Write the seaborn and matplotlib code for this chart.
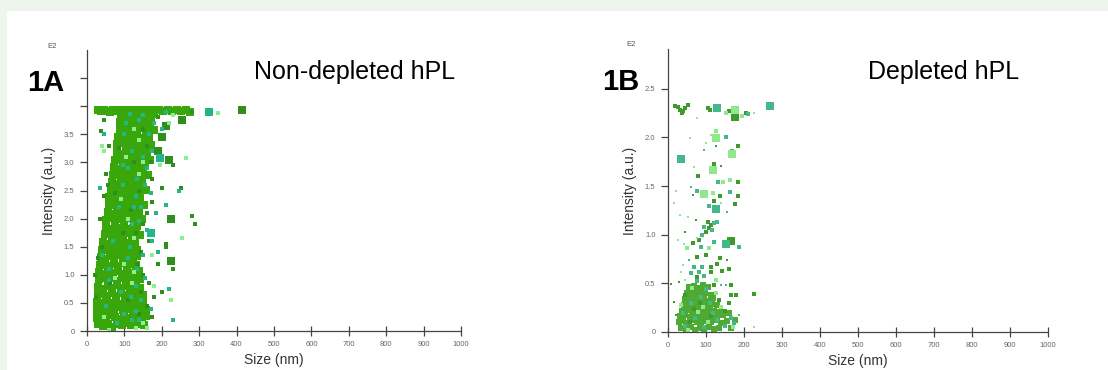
import matplotlib
matplotlib.use("Agg")
import matplotlib.pyplot as plt
from matplotlib.patches import Rectangle
import pandas as pd
import seaborn as sns

# --- data (size in nm, intensity in E2 a.u.)

# panel 1A, non-depleted hPL
a_core = [
    (30, 0.12), (42, 0.09), (55, 0.13), (68, 0.08), (80, 0.12), (93, 0.10), (105, 0.14), (118, 0.11), (128, 0.15),
    (27, 0.24), (38, 0.27), (50, 0.22), (63, 0.28), (75, 0.25), (88, 0.21), (100, 0.27), (112, 0.24), (124, 0.26), (135, 0.23),
    (26, 0.38), (36, 0.41), (48, 0.35), (60, 0.40), (72, 0.36), (85, 0.42), (97, 0.37), (110, 0.40), (122, 0.36), (133, 0.41),
    (28, 0.52), (40, 0.49), (52, 0.55), (64, 0.50), (77, 0.54), (89, 0.48), (101, 0.53), (113, 0.50), (125, 0.55),
    (29, 0.65), (41, 0.68), (53, 0.63), (66, 0.67), (78, 0.62), (90, 0.68), (103, 0.64), (115, 0.67), (127, 0.63),
    (30, 0.78), (42, 0.75), (55, 0.80), (67, 0.76), (80, 0.81), (92, 0.77), (104, 0.80), (117, 0.76),
    (32, 0.92), (44, 0.95), (56, 0.90), (68, 0.94), (81, 0.89), (93, 0.95), (106, 0.91), (118, 0.94),
    (33, 1.05), (45, 1.02), (57, 1.08), (70, 1.03), (82, 1.07), (95, 1.02), (107, 1.06), (116, 1.03),
    (35, 1.18), (47, 1.21), (59, 1.16), (71, 1.20), (84, 1.15), (96, 1.21), (108, 1.17),
    (37, 1.32), (49, 1.29), (61, 1.34), (73, 1.30), (86, 1.35), (98, 1.29), (110, 1.33),
    (40, 1.45), (52, 1.48), (64, 1.43), (76, 1.47), (88, 1.42), (100, 1.48), (111, 1.44),
    (44, 1.58), (56, 1.55), (68, 1.60), (80, 1.56), (92, 1.61), (104, 1.55),
    (47, 1.72), (59, 1.75), (71, 1.70), (83, 1.74), (95, 1.69), (107, 1.75),
    (50, 1.85), (62, 1.82), (74, 1.88), (86, 1.83), (98, 1.87), (110, 1.82),
    (52, 1.98), (64, 2.01), (76, 1.96), (88, 2.00), (100, 1.95), (112, 2.01),
    (55, 2.12), (67, 2.09), (79, 2.14), (91, 2.10), (103, 2.15), (115, 2.09),
    (58, 2.25), (70, 2.28), (82, 2.23), (94, 2.27), (106, 2.22), (117, 2.28),
    (60, 2.38), (72, 2.35), (84, 2.40), (96, 2.36), (108, 2.41), (119, 2.35),
    (63, 2.52), (75, 2.55), (87, 2.50), (99, 2.54), (111, 2.49), (121, 2.55),
    (66, 2.65), (78, 2.62), (90, 2.67), (102, 2.63), (114, 2.68), (124, 2.62),
    (69, 2.78), (81, 2.81), (93, 2.76), (105, 2.80), (117, 2.75), (127, 2.81),
    (72, 2.92), (84, 2.89), (96, 2.94), (108, 2.90), (120, 2.95), (130, 2.89),
    (76, 3.05), (88, 3.08), (100, 3.03), (112, 3.07), (124, 3.02), (133, 3.08),
    (79, 3.18), (91, 3.15), (103, 3.20), (115, 3.16), (127, 3.21), (136, 3.15),
    (81, 3.32), (93, 3.35), (105, 3.30), (117, 3.34), (129, 3.29), (139, 3.35),
    (84, 3.45), (96, 3.42), (108, 3.47), (120, 3.43), (132, 3.48), (142, 3.42),
    (87, 3.58), (99, 3.61), (111, 3.56), (123, 3.60), (135, 3.55), (146, 3.61),
    (89, 3.72), (101, 3.69), (113, 3.74), (125, 3.70), (137, 3.75), (149, 3.69),
    (92, 3.85), (104, 3.82), (116, 3.87), (128, 3.83), (140, 3.86), (152, 3.82),
    (30, 3.93), (38, 3.91), (46, 3.94), (54, 3.92), (62, 3.90), (70, 3.93), (78, 3.91), (86, 3.94),
    (160, 3.92), (170, 3.94), (180, 3.91), (192, 3.93), (204, 3.92), (216, 3.94), (228, 3.91), (240, 3.93),
]
a_core_edge = [
    (140, 0.13), (152, 0.10), (146, 0.25), (157, 0.27), (145, 0.39), (158, 0.37),
    (137, 0.51), (150, 0.54), (139, 0.66), (150, 0.64), (129, 0.79), (141, 0.77),
    (130, 0.91), (142, 0.93), (128, 1.04), (140, 1.06), (120, 1.19), (132, 1.17),
    (122, 1.31), (134, 1.33), (123, 1.46), (135, 1.44),
    (116, 1.57), (128, 1.59), (119, 1.71), (131, 1.73), (143, 1.71),
    (122, 1.84), (134, 1.86), (124, 1.99), (136, 1.97), (148, 1.99),
    (127, 2.11), (139, 2.13), (129, 2.24), (141, 2.26), (153, 2.24),
    (131, 2.37), (143, 2.39), (133, 2.51), (145, 2.53), (157, 2.51),
    (136, 2.64), (148, 2.66), (139, 2.77), (151, 2.79), (162, 2.77),
    (142, 2.91), (154, 2.93), (145, 3.04), (157, 3.06), (168, 3.04),
    (148, 3.17), (160, 3.19), (151, 3.31), (162, 3.33), (172, 3.31),
    (154, 3.44), (165, 3.46), (158, 3.57), (168, 3.59), (178, 3.57),
    (161, 3.71), (171, 3.73), (164, 3.84), (174, 3.86),
    (94, 3.92), (102, 3.94), (110, 3.91), (118, 3.93), (126, 3.92), (134, 3.94),
    (142, 3.91), (150, 3.93), (252, 3.92), (264, 3.94), (276, 3.90),
]
a_dark = [
    (45, 3.75), (38, 3.55), (60, 3.30), (50, 2.80), (55, 2.60), (45, 2.40), (35, 2.00), (40, 1.50),
    (30, 1.30), (22, 1.00), (25, 0.60), (150, 3.60), (160, 3.30), (170, 3.00), (175, 2.70),
    (230, 2.95), (250, 2.55), (280, 2.05), (290, 1.90), (200, 2.55), (175, 2.30), (160, 2.10),
    (150, 1.90), (165, 1.60), (145, 1.40), (135, 1.20), (150, 1.00), (165, 0.85), (180, 0.60),
    (160, 0.45), (175, 0.25), (140, 0.30), (145, 0.70), (190, 1.20), (210, 1.55), (230, 1.10),
    (200, 0.70), (190, 3.80), (280, 3.90), (210, 1.50), (130, 1.75), (140, 2.50), (125, 3.00),
    (75, 2.45), (95, 1.75), (62, 0.85), (110, 0.55), (85, 3.25), (118, 2.15),
]
a_dark_big = [(190, 3.20), (255, 3.75), (200, 3.45), (225, 2.00), (220, 3.05), (225, 1.25), (415, 3.93), (210, 3.65)]
a_teal = [
    (150, 3.85), (165, 3.50), (175, 3.20), (160, 2.90), (155, 2.60), (170, 2.45), (145, 2.20),
    (140, 1.95), (160, 1.80), (175, 1.60), (150, 1.35), (135, 1.10), (155, 0.95), (130, 0.80),
    (145, 0.55), (170, 0.40), (120, 0.20), (100, 0.30), (60, 0.90), (40, 1.35), (35, 2.55),
    (45, 3.50), (210, 3.90), (245, 2.50), (210, 2.25), (220, 0.75), (230, 0.20), (135, 2.70),
    (125, 2.20), (115, 1.50), (118, 0.60), (185, 2.10), (190, 1.40), (105, 3.70), (95, 2.95),
    (200, 3.60), (180, 3.70), (150, 3.10), (140, 0.20),
    (100, 3.50), (120, 3.20), (110, 2.90), (95, 2.60), (130, 2.40), (85, 2.20), (120, 1.90),
    (70, 1.60), (110, 1.30), (60, 1.10), (90, 0.70), (50, 0.45), (130, 0.35), (80, 0.15),
    (140, 3.75), (115, 3.87),
]
a_teal_big = [(325, 3.90), (195, 3.08), (170, 1.75)]
a_light = [
    (40, 3.30), (45, 3.20), (350, 3.88), (265, 3.07), (255, 1.65), (225, 0.55), (160, 0.05),
    (130, 0.05), (60, 0.02), (220, 3.70), (195, 2.95), (175, 1.35), (150, 3.00), (125, 1.05),
    (230, 3.85), (180, 0.80), (110, 2.00), (140, 3.40),
    (125, 3.60), (105, 3.10), (140, 2.80), (90, 2.35), (125, 1.65), (100, 1.20), (75, 0.95),
    (120, 0.85), (45, 0.25), (150, 0.15),
]

# panel 1B, depleted hPL
b_core = [
    (35, 0.04), (48, 0.03), (60, 0.05), (72, 0.02), (84, 0.04), (96, 0.03), (108, 0.05), (120, 0.03), (135, 0.04), (165, 0.04),
    (28, 0.10), (40, 0.11), (52, 0.09), (64, 0.12), (76, 0.10), (88, 0.08), (100, 0.11), (112, 0.10), (124, 0.12), (140, 0.09), (155, 0.11), (175, 0.12),
    (32, 0.16), (45, 0.17), (57, 0.15), (69, 0.18), (81, 0.16), (93, 0.14), (105, 0.17), (117, 0.16), (130, 0.15), (145, 0.17), (160, 0.20),
    (38, 0.22), (50, 0.23), (62, 0.21), (74, 0.24), (86, 0.22), (98, 0.20), (110, 0.23), (122, 0.22), (138, 0.21),
    (42, 0.28), (54, 0.29), (66, 0.27), (78, 0.30), (90, 0.28), (102, 0.26), (115, 0.29), (128, 0.28),
    (46, 0.34), (58, 0.35), (70, 0.33), (82, 0.36), (94, 0.34), (106, 0.32), (118, 0.35),
    (50, 0.40), (62, 0.41), (74, 0.39), (86, 0.42), (98, 0.40), (112, 0.38),
    (55, 0.46), (68, 0.47), (80, 0.45), (93, 0.48), (105, 0.46),
]
b_dark = [
    (18, 2.32), (25, 2.31), (32, 2.28), (38, 2.25), (45, 2.30), (52, 2.33), (40, 2.27), (105, 2.30),
    (110, 2.28), (160, 2.27), (175, 2.19), (204, 2.25), (121, 1.73), (79, 1.60), (138, 1.40),
    (184, 1.40), (121, 1.35), (176, 1.32), (104, 1.13), (112, 1.10), (108, 1.07), (100, 1.03),
    (67, 0.92), (82, 0.95), (77, 0.77), (99, 0.79), (112, 0.67), (112, 0.62), (77, 0.57),
    (165, 0.48), (178, 0.38), (165, 0.38), (226, 0.39), (184, 1.54), (184, 1.91), (130, 0.70),
    (143, 0.63), (160, 0.65), (137, 0.76),
    (57, 0.10), (85, 0.30), (112, 0.16), (135, 0.33), (68, 0.24), (150, 0.22), (160, 0.30),
    (120, 0.48), (45, 0.38),
]
b_dark_big = [(167, 0.94), (175, 2.21)]
b_dark_tiny = [(125, 1.91), (139, 1.71), (67, 1.41), (74, 1.15), (46, 1.03), (156, 0.74), (7, 0.49), (29, 0.51), (16, 0.31), (20, 0.17)]
b_teal = [
    (153, 2.00), (168, 1.86), (131, 1.54), (163, 1.44), (109, 1.30), (120, 1.12), (130, 1.13),
    (115, 1.05), (96, 1.08), (89, 1.00), (121, 0.93), (187, 0.87), (86, 0.87), (68, 0.67),
    (90, 0.67), (60, 0.61), (82, 0.62), (95, 0.58), (174, 0.09), (210, 2.24), (75, 1.45),
    (45, 0.06), (70, 0.14), (95, 0.05), (118, 0.20), (60, 0.30), (88, 0.36), (130, 0.12),
    (150, 0.06), (165, 0.14), (100, 0.44), (75, 0.52), (110, 0.30), (40, 0.20),
]
b_teal_big = [(130, 2.30), (268, 2.32), (35, 1.78), (125, 1.26), (152, 0.91)]
b_teal_tiny = [(95, 1.87), (60, 1.49), (154, 1.23), (55, 0.74), (139, 0.48), (152, 0.48), (187, 0.17)]
b_light = [
    (152, 2.25), (125, 2.07), (144, 1.54), (162, 1.56), (51, 0.86), (108, 0.86), (125, 0.53),
    (195, 2.22), (119, 1.43), (52, 0.02), (80, 0.21), (105, 0.10), (140, 0.26), (62, 0.45),
    (170, 0.05), (35, 0.28), (125, 0.40), (92, 0.26),
]
b_light_big = [(176, 2.28), (125, 1.99), (168, 1.83), (119, 1.67), (96, 1.42)]
b_light_tiny = [
    (226, 2.25), (77, 2.20), (112, 2.03), (57, 1.99), (99, 1.94), (68, 1.70), (20, 1.45),
    (16, 1.33), (139, 1.33), (32, 1.20), (53, 1.18), (77, 0.97), (26, 0.95), (42, 0.91),
    (40, 0.69), (33, 0.62), (46, 0.53), (226, 0.05),
]

# --- styles: (colour, marker area in pt^2)
sq_tiny, sq_small, sq_core_b, sq_mid, sq_big = 3.5, 9, 18, 29, 36
a_layers = [
    (a_core, '#39a70b', sq_mid),
    (a_core_edge, '#39a70b', sq_mid),
    (a_dark, '#2f8f1c', sq_small),
    (a_dark_big, '#2f8f1c', sq_big),
    (a_teal, '#23b68a', sq_small),
    (a_teal_big, '#23b68a', sq_big),
    (a_light, '#8cee8c', sq_small),
]
b_layers = [
    (b_core, '#4eaa32', sq_core_b),
    (b_dark, '#3f9a2c', sq_small),
    (b_dark_big, '#3f9a2c', sq_big),
    (b_dark_tiny, '#3f9a2c', sq_tiny),
    (b_teal, '#44b88a', sq_small),
    (b_teal_big, '#44b88a', sq_big),
    (b_teal_tiny, '#44b88a', sq_tiny),
    (b_light, '#8fe88c', sq_small),
    (b_light_big, '#8fe88c', sq_big),
    (b_light_tiny, '#8fe88c', sq_tiny),
]

sns.set_theme(style="white")
plt.rcParams['font.family'] = ['Liberation Sans', 'DejaVu Sans']

fig = plt.figure(figsize=(11.08, 3.70), dpi=100)
fig.patch.set_facecolor('#edf5ed')
fig.patches.append(Rectangle((7 / 1108, 0), 1, (370 - 11) / 370, transform=fig.transFigure,
                             facecolor='white', edgecolor='none', zorder=-10))


def draw_panel(ax, layers, ymax, yticks, ylabels):
    for pts, colour, area in layers:
        df = pd.DataFrame(pts, columns=['size_nm', 'intensity'])
        sns.scatterplot(data=df, x='size_nm', y='intensity', ax=ax, marker='s',
                        color=colour, s=area, linewidth=0, legend=False)
    ax.patch.set_alpha(0)
    ax.set_xlim(0, 1000)
    ax.set_ylim(0, ymax)
    ax.set_xticks(range(0, 1001, 100))
    ax.set_xticklabels([str(v) for v in range(0, 1001, 100)])
    ax.set_yticks(yticks)
    ax.set_yticklabels(ylabels)
    sns.despine(ax=ax)
    for side in ['left', 'bottom']:
        ax.spines[side].set_color('#444444')
        ax.spines[side].set_linewidth(0.9)
    ax.tick_params(axis='x', bottom=True, direction='inout', length=7, width=0.9, color='#444444',
                   labelsize=5.5, labelcolor='#666666', pad=4)
    ax.tick_params(axis='y', left=True, direction='out', length=5, width=0.9, color='#444444',
                   labelsize=5.5, labelcolor='#666666', pad=4)
    ax.set_xlabel('Size (nm)', fontsize=10, color='#333333', labelpad=3)
    ax.set_ylabel('Intensity (a.u.)', fontsize=10, color='#333333', labelpad=6)


ax_a = fig.add_axes([87 / 1108, 39 / 370, 374 / 1108, 281 / 370])
draw_panel(ax_a, a_layers, 5.0,
           [0, 0.5, 1.0, 1.5, 2.0, 2.5, 3.0, 3.5, 4.0, 4.5],
           ['0', '0.5', '1.0', '1.5', '2.0', '2.5', '3.0', '3.5', '', ''])

ax_b = fig.add_axes([668 / 1108, 38 / 370, 380 / 1108, 283 / 370])
draw_panel(ax_b, b_layers, 2.91,
           [0, 0.5, 1.0, 1.5, 2.0, 2.5],
           ['0', '0.5', '1.0', '1.5', '2.0', '2.5'])

# panel labels and titles
fig.text(52 / 1108, 1 - 46 / 370, 'E2', fontsize=5.5, color='#555555', ha='center', va='center')
fig.text(631 / 1108, 1 - 44 / 370, 'E2', fontsize=5.5, color='#555555', ha='center', va='center')
fig.text(46 / 1108, 1 - 83 / 370, '1A', fontsize=21, fontweight='bold', color='black', ha='center', va='center')
fig.text(621 / 1108, 1 - 82 / 370, '1B', fontsize=21, fontweight='bold', color='black', ha='center', va='center')
fig.text(355 / 1108, 1 - 72 / 370, 'Non-depleted hPL', fontsize=18, color='black', ha='center', va='center')
fig.text(944 / 1108, 1 - 72 / 370, 'Depleted hPL', fontsize=18, color='black', ha='center', va='center')

fig.savefig('out.png', dpi=100, facecolor=fig.get_facecolor())
